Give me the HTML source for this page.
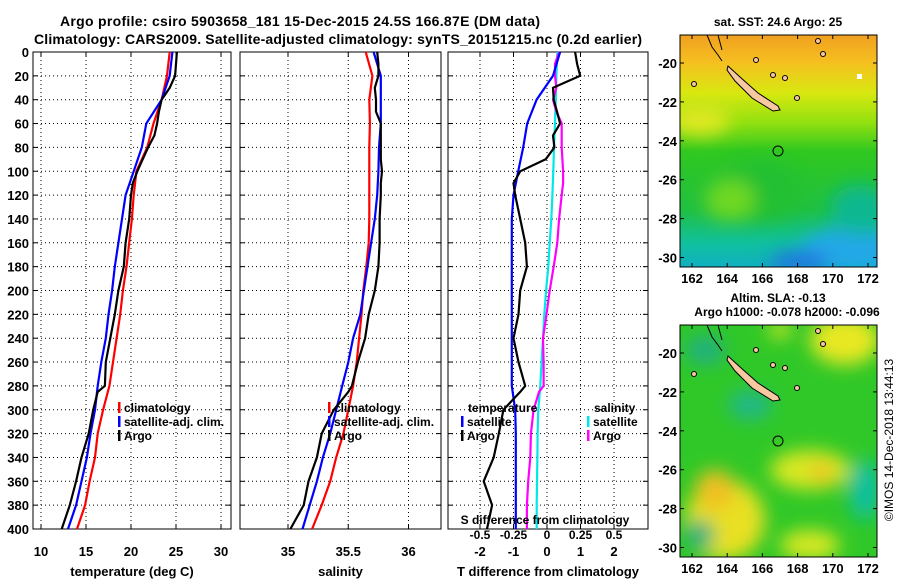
<!DOCTYPE html>
<html><head><meta charset="utf-8"><style>
html,body{margin:0;padding:0;background:#fff;width:900px;height:580px;overflow:hidden}
svg{display:block;font-family:"Liberation Sans",sans-serif;font-weight:bold}
</style></head><body>
<svg id="chart" width="900" height="580" viewBox="0 0 900 580">
<defs>
<filter id="blur6" x="-50%" y="-50%" width="200%" height="200%"><feGaussianBlur stdDeviation="9"/></filter>
<clipPath id="clipTop"><rect x="680" y="35" width="197" height="232"/></clipPath>
<clipPath id="clipBot"><rect x="680" y="325" width="197" height="232"/></clipPath>
<linearGradient id="sstGrad" x1="0" y1="0" x2="0" y2="1">
<stop offset="0" stop-color="#f0a020"/><stop offset="0.12" stop-color="#f5c020"/><stop offset="0.25" stop-color="#d8e810"/><stop offset="0.38" stop-color="#90e010"/><stop offset="0.5" stop-color="#30c820"/><stop offset="0.75" stop-color="#20c040"/><stop offset="0.9" stop-color="#10c0a0"/><stop offset="1" stop-color="#10b0c0"/>
</linearGradient>
</defs>
<text x="300" y="26" font-size="14" text-anchor="middle" textLength="480">Argo profile: csiro 5903658_181 15-Dec-2015 24.5S 166.87E (DM data)</text>
<text x="338" y="44" font-size="14" text-anchor="middle" textLength="608">Climatology: CARS2009. Satellite-adjusted climatology: synTS_20151215.nc (0.2d earlier)</text>
<g id="panels"></g>
<g id="maps">
<text x="778" y="26" font-size="12" text-anchor="middle">sat. SST: 24.6 Argo: 25</text>
<g clip-path="url(#clipTop)">
<rect x="680" y="35" width="197" height="232" fill="url(#sstGrad)"/>
<g filter="url(#blur6)">
<ellipse cx="850" cy="250" rx="50" ry="22" fill="#20a8e8"/>
<ellipse cx="800" cy="262" rx="30" ry="10" fill="#2070e0"/>
<ellipse cx="700" cy="120" rx="30" ry="15" fill="#e0e820"/>
<ellipse cx="760" cy="190" rx="40" ry="30" fill="#20c030"/>
<ellipse cx="860" cy="210" rx="30" ry="25" fill="#10b890"/>
<ellipse cx="730" cy="200" rx="25" ry="20" fill="#70d820"/>
</g>
<rect x="857" y="74" width="5" height="5" fill="#fff"/>
</g>
<rect x="680" y="35" width="197" height="232" fill="none" stroke="#000" stroke-width="1"/>
<text x="778" y="302" font-size="12" text-anchor="middle">Altim. SLA: -0.13</text>
<text x="787" y="316" font-size="12" text-anchor="middle">Argo h1000: -0.078 h2000: -0.096</text>
<g clip-path="url(#clipBot)">
<rect x="680" y="325" width="197" height="232" fill="#30c828"/>
<g filter="url(#blur6)">
<ellipse cx="725" cy="520" rx="40" ry="40" fill="#e8e020"/>
<ellipse cx="715" cy="490" rx="20" ry="20" fill="#f0c020"/>
<ellipse cx="845" cy="340" rx="35" ry="25" fill="#e8e820"/>
<ellipse cx="810" cy="470" rx="40" ry="20" fill="#d8e820"/>
<ellipse cx="822" cy="472" rx="12" ry="10" fill="#f0c020"/>
<ellipse cx="865" cy="490" rx="16" ry="30" fill="#10c0a0"/>
<ellipse cx="750" cy="405" rx="22" ry="15" fill="#20b888"/>
<ellipse cx="705" cy="350" rx="20" ry="15" fill="#20b080"/>
<ellipse cx="700" cy="535" rx="15" ry="15" fill="#20b080"/>
<ellipse cx="810" cy="545" rx="30" ry="15" fill="#d8e820"/>
<ellipse cx="780" cy="330" rx="12" ry="8" fill="#d8e820"/>
</g>
</g>
<rect x="680" y="325" width="197" height="232" fill="none" stroke="#000" stroke-width="1"/>
<g id="mapdeco"></g>
<text transform="translate(893,440) rotate(-90)" font-size="12" font-weight="normal" text-anchor="middle">©IMOS 14-Dec-2018 13:44:13</text>
</g>
</svg>
<script>
// depth axis
const depths = [0,20,40,60,80,100,120,140,160,180,200,220,240,260,280,300,320,340,360,380,400];
const depthTicks = [0,20,40,60,80,100,120,140,160,180,200,220,240,260,280,300,320,340,360,380,400];
// temperature panel
const tempClim = [24.3,24.0,23.4,22.5,21.8,20.6,20.3,20.1,19.8,19.5,19.1,18.8,18.4,18.0,17.6,16.9,16.3,16.0,15.4,14.9,14.0];
const tempSat = [24.6,24.3,23.4,21.7,21.2,20.3,19.4,19.0,18.6,18.2,17.9,17.5,17.2,16.7,16.3,16.0,15.5,15.1,14.5,13.9,13.0];
const argoDepths = [0,10,20,30,40,50,60,70,80,90,100,110,120,140,160,180,200,220,240,260,280,285,300,320,340,360,380,400];
const tempArgo = [25.1,25.0,24.9,24.3,23.4,23.1,22.9,22.6,21.9,21.3,20.7,20.2,20.0,19.8,19.4,19.2,18.6,18.2,17.7,17.2,17.1,16.3,15.8,15.3,14.5,13.9,13.2,12.3];
const tempTicks = [10,15,20,25,30];
// salinity panel
const salClim = [35.645,35.70,35.675,35.68,35.675,35.675,35.675,35.675,35.67,35.65,35.625,35.61,35.59,35.57,35.54,35.50,35.46,35.40,35.35,35.28,35.20];
const salSat = [35.71,35.77,35.77,35.77,35.755,35.75,35.74,35.72,35.69,35.66,35.63,35.60,35.54,35.50,35.45,35.40,35.35,35.29,35.24,35.18,35.12];
const salArgo = [35.74,35.75,35.75,35.72,35.73,35.73,35.77,35.77,35.77,35.77,35.78,35.77,35.77,35.76,35.76,35.75,35.72,35.67,35.64,35.58,35.53,35.50,35.38,35.28,35.24,35.17,35.13,35.02];
const salTicks = [35,35.5,36];
// difference panel
const tDiffSat = [0.39,0.18,-0.31,-0.59,-0.71,-0.86,-1.0,-1.05,-1.05,-1.05,-1.05,-1.05,-1.05,-1.05,-1.05,-0.95,-0.93,-0.93,-0.93,-0.93,-0.93];
const tDiffArgo = [0.84,0.9,0.99,0.18,0.2,0.3,0.39,0.18,0.22,-0.04,-0.8,-1.0,-0.95,-0.8,-0.65,-0.6,-0.8,-0.85,-1.0,-0.85,-0.65,-0.8,-1.3,-1.44,-1.59,-1.89,-1.64,-1.79];
const sDiffSat = [0.077,0.07,0.065,0.06,0.052,0.047,0.04,0.032,0.02,0.01,-0.007,-0.02,-0.03,-0.04,-0.05,-0.065,-0.07,-0.072,-0.075,-0.077,-0.077];
const sDiffArgo = [0.09,0.06,0.06,0.07,0.045,0.07,0.11,0.11,0.11,0.115,0.12,0.12,0.11,0.09,0.077,0.05,0.02,-0.004,-0.03,-0.025,-0.025,-0.06,-0.10,-0.12,-0.125,-0.14,-0.15,-0.15];
const tDiffTicks = [-2,-1,0,1,2];
const sDiffTicks = [-0.5,-0.25,0,0.25,0.5];
const sDiffTickLabels = ["-0.5","-0.25","0","0.25","0.5"];
// map axes
const lonTicks = [162,164,166,168,170,172];
const latTicks = [-20,-22,-24,-26,-28,-30];

const NS='http://www.w3.org/2000/svg';
function mk(tag,attrs,parent){const e=document.createElementNS(NS,tag);for(const k in attrs)e.setAttribute(k,attrs[k]);parent.appendChild(e);return e;}
const Y0=52,Y1=529;
const yD=d=>Y0+(Y1-Y0)*d/400;
const panels=document.getElementById('panels');

function panel(name,x0,x1,xScale,xTicks,xLabels,xTitle,showY){
  const g=mk('g',{},panels);
  
  
  xTicks.forEach(t=>{const x=xScale(t);const l=mk('line',{x1:x,x2:x,y1:Y0,y2:Y1,stroke:'#000','stroke-dasharray':'1,3','stroke-width':1},g);
    mk('line',{x1:x,x2:x,y1:Y1,y2:Y1-5,stroke:'#000'},g);mk('line',{x1:x,x2:x,y1:Y0,y2:Y0+5,stroke:'#000'},g);});
  depthTicks.forEach(d=>{const y=yD(d);if(d>0&&d<400){const l=mk('line',{x1:x0,x2:x1,y1:y,y2:y,stroke:'#000','stroke-dasharray':'1,3'},g);}
    mk('line',{x1:x0,x2:x0+5,y1:y,y2:y,stroke:'#000'},g);mk('line',{x1:x1-5,x2:x1,y1:y,y2:y,stroke:'#000'},g);
    if(showY){const t=mk('text',{x:x0-4,y:y+5,'font-size':13,'text-anchor':'end'},g);t.textContent=d;}});
  const r=mk('rect',{x:x0,y:Y0,width:x1-x0,height:Y1-Y0,fill:'none',stroke:'#000'},g);
  
  xTicks.forEach((t,i)=>{const tx=mk('text',{x:xScale(t),y:Y1+27,'font-size':13,'text-anchor':'middle'},g);tx.textContent=xLabels[i];});
  const tt=mk('text',{x:(x0+x1)/2,y:576,'font-size':13,'text-anchor':'middle'},g);tt.textContent=xTitle;
  
  return g;
}
function series(g,name,ds,vals,xScale,color){
  let p='';vals.forEach((v,i)=>{p+=(i?'L':'M')+xScale(v).toFixed(1)+','+yD(ds[i]).toFixed(1);});
  const e=mk('path',{d:p,fill:'none',stroke:color,'stroke-width':2.2},g);
  
}
function legend(g,x,y,color,label,name){
  const m=mk('rect',{x:x,y:y-10,width:2.5,height:11,fill:color},g);
  
  const t=mk('text',{x:x+6,y:y,'font-size':12},g);t.textContent=label;
  
}
const xT=v=>41+(v-10)*9;
const g1=panel('temperature-panel',33,231,xT,tempTicks,tempTicks.map(String),'temperature (deg C)',true);
series(g1,'temp-climatology-line',depths,tempClim,xT,'#ff0000');
series(g1,'temp-satellite-line',depths,tempSat,xT,'#0000ff');
series(g1,'temp-argo-line',argoDepths,tempArgo,xT,'#000');
legend(g1,118,412,'#f00','climatology','legend-climatology');
legend(g1,118,426,'#00f','satellite-adj. clim.','legend-satellite');
legend(g1,118,440,'#000','Argo','legend-argo');
const xS=v=>288+(v-35)*120.5;
const g2=panel('salinity-panel',240,441,xS,salTicks,['35','35.5','36'],'salinity',false);
series(g2,'sal-climatology-line',depths,salClim,xS,'#ff0000');
series(g2,'sal-satellite-line',depths,salSat,xS,'#0000ff');
series(g2,'sal-argo-line',argoDepths,salArgo,xS,'#000');
legend(g2,328,412,'#f00','climatology','legend-climatology');
legend(g2,328,426,'#00f','satellite-adj. clim.','legend-satellite');
legend(g2,328,440,'#000','Argo','legend-argo');
const xTD=v=>547+v*33.5;
const xSD=v=>547+v*134;
const g3=panel('difference-panel',448,648,xTD,tDiffTicks,tDiffTicks.map(String),'T difference from climatology',false);
series(g3,'sdiff-satellite-line',depths,sDiffSat,xSD,'#00e8e8');
series(g3,'sdiff-argo-line',argoDepths,sDiffArgo,xSD,'#ff00ff');
series(g3,'tdiff-satellite-line',depths,tDiffSat,xTD,'#0000ff');
series(g3,'tdiff-argo-line',argoDepths,tDiffArgo,xTD,'#000');
{const t=mk('text',{x:468,y:412,'font-size':12},g3);t.textContent='temperature';
 const s=mk('text',{x:594,y:412,'font-size':12},g3);s.textContent='salinity';}
legend(g3,461,426,'#00f','satellite','legend-t-satellite');
legend(g3,461,440,'#000','Argo','legend-t-argo');
legend(g3,587,426,'#00e8e8','satellite','legend-s-satellite');
legend(g3,587,440,'#f0f','Argo','legend-s-argo');
{const t=mk('text',{x:545,y:524,'font-size':12,'text-anchor':'middle'},g3);t.textContent='S difference from climatology';}
sDiffTicks.forEach((v,i)=>{const t=mk('text',{x:xSD(v),y:539,'font-size':12,'text-anchor':'middle'},g3);t.textContent=sDiffTickLabels[i];});

const md=document.getElementById('mapdeco');
function mapAxes(top,name){
  const lonX=l=>692+(l-162)*17.6;
  const latY=l=>top+28+(-20-l)*19.45;
  const bot=top+232;
  lonTicks.forEach(l=>{const x=lonX(l);mk('line',{x1:x,x2:x,y1:bot,y2:bot-4,stroke:'#000'},md);mk('line',{x1:x,x2:x,y1:top,y2:top+4,stroke:'#000'},md);
    const t=mk('text',{x:x,y:bot+16,'font-size':13,'text-anchor':'middle'},md);t.textContent=l;});
  latTicks.forEach(l=>{const y=latY(l);mk('line',{x1:680,x2:684,y1:y,y2:y,stroke:'#000'},md);mk('line',{x1:873,x2:877,y1:y,y2:y,stroke:'#000'},md);
    const t=mk('text',{x:677,y:y+5,'font-size':13,'text-anchor':'end'},md);t.textContent=l;});
  const isl=mk('path',{d:`M728,${top+31} L740,${top+42} L758,${top+58} L778,${top+71} L780,${top+75} L773,${top+76} L752,${top+63} L735,${top+46} L727,${top+35}Z`,fill:'#f8c8a0',stroke:'#000','stroke-width':1},md);
  
  mk('path',{d:`M707,${top} L712,${top+12} L718,${top+20} L722,${top+26} M718,${top} L722,${top+15}`,fill:'none',stroke:'#000','stroke-width':1},md);
  [[756,top+25],[773,top+40],[785,top+43],[797,top+63],[694,top+49],[818,top+6],[823,top+19]].forEach(p=>mk('circle',{cx:p[0],cy:p[1],r:2.5,fill:'#f8c8a0',stroke:'#000'},md));
  const c=mk('circle',{cx:778,cy:top+116,r:5,fill:'none',stroke:'#000','stroke-width':1},md);
  
}
mapAxes(35,'sst-map');
mapAxes(325,'sla-map');
</script>
</body></html>
